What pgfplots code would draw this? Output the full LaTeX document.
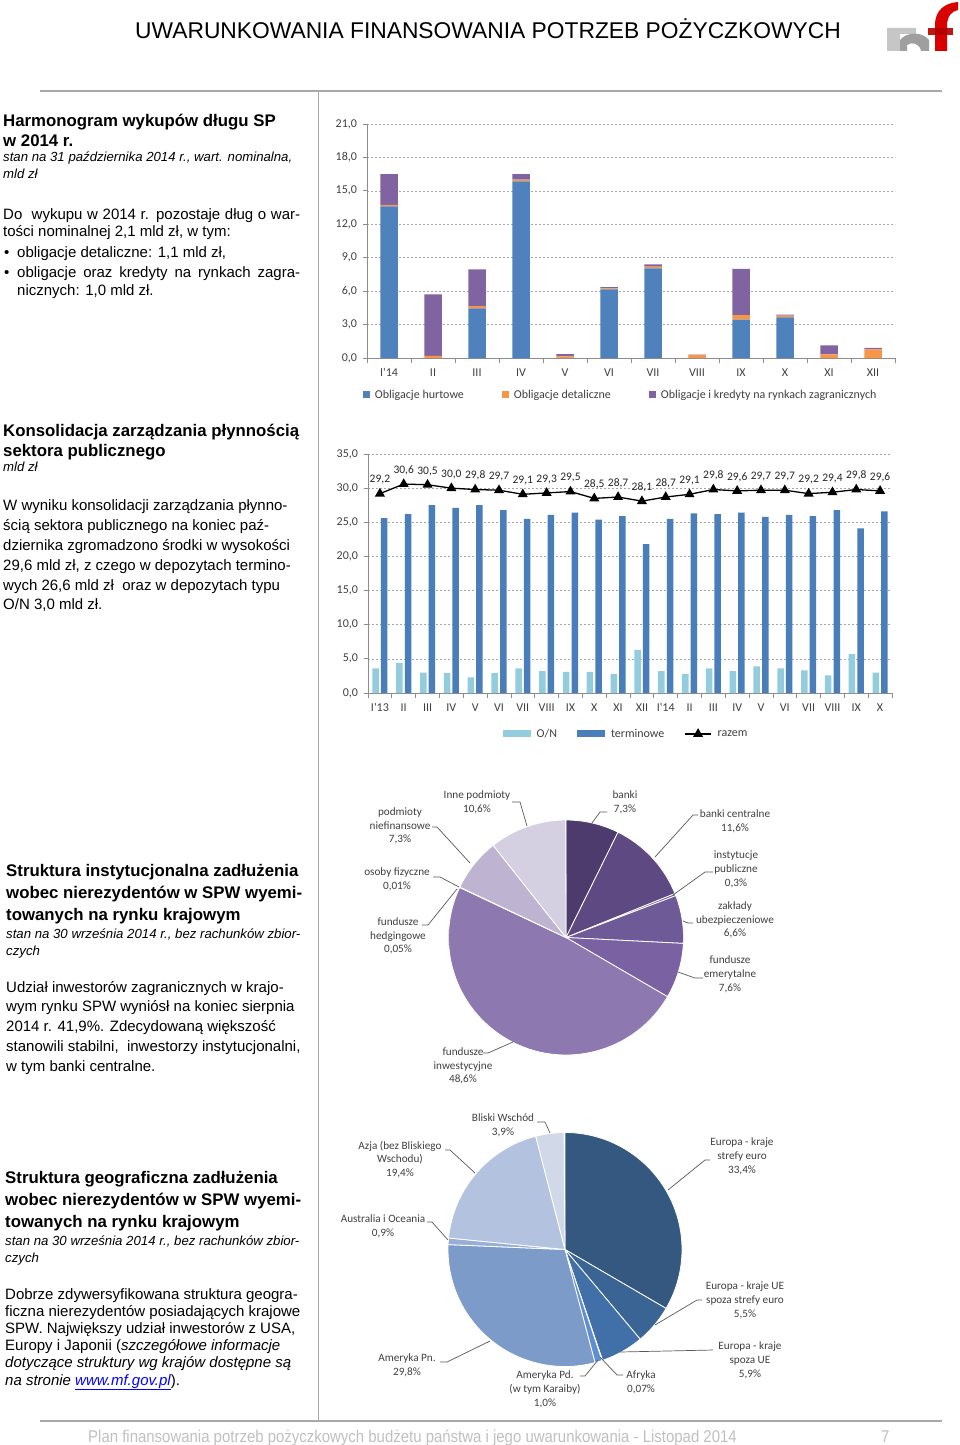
\documentclass[border=0pt]{standalone}
\usepackage{fontspec}
\setmainfont{Liberation Sans}
\newfontfamily\calibri{Carlito}
\newfontfamily\narrowfont[FakeStretch=0.88]{Liberation Sans}
\usepackage{pgfplots}
\usepackage{pgfplotstable}
\pgfplotsset{compat=1.18}

\definecolor{cHurt}{HTML}{4F81BD}
\definecolor{cDet}{HTML}{F79646}
\definecolor{cFor}{HTML}{8064A2}
\definecolor{cON}{HTML}{93CDDD}
\definecolor{cTerm}{HTML}{4A7EBB}
\definecolor{axisgray}{HTML}{8C8C8C}
\definecolor{gridgray}{HTML}{A6A6A6}
\definecolor{ticktext}{HTML}{404040}
\definecolor{linegray}{HTML}{A8A8A8}
\definecolor{footgray}{HTML}{C0C0C0}
\definecolor{leadgray}{HTML}{595959}
% pie 1
\definecolor{pa}{HTML}{4E3B6E}
\definecolor{pb}{HTML}{5E4982}
\definecolor{pc}{HTML}{6A5590}
\definecolor{pd}{HTML}{6F5A98}
\definecolor{pe}{HTML}{7A61A1}
\definecolor{pf}{HTML}{8D78B0}
\definecolor{pg}{HTML}{A090C0}
\definecolor{ph}{HTML}{A99BC7}
\definecolor{pi}{HTML}{BEB4D1}
\definecolor{pj}{HTML}{D5CFE2}
% pie 2
\definecolor{qa}{HTML}{34587F}
\definecolor{qb}{HTML}{3A6494}
\definecolor{qc}{HTML}{416FA8}
\definecolor{qd}{HTML}{4A7ABB}
\definecolor{qe}{HTML}{5F8FD0}
\definecolor{qf}{HTML}{7D9BC9}
\definecolor{qg}{HTML}{98AED6}
\definecolor{qh}{HTML}{B3C3DF}
\definecolor{qi}{HTML}{D1D9E9}

\newcommand\T[3]{\node[anchor=base west,inner sep=0pt] at (#1,#2) {#3};}
\newcommand\fbold{\fontsize{16.8}{20}\selectfont\bfseries}
\newcommand\fit{\fontsize{13.2}{15}\selectfont\itshape}
\newcommand\fbody{\fontsize{15}{20}\selectfont}
\newcommand\pielab{\calibri\fontsize{11.2}{13.8}\selectfont}

\pgfplotstableread{
x  hurt  det   for
0  13.6  0.15  2.75
1  0     0.20  5.50
2  4.45  0.20  3.30
3  15.85 0.15  0.50
4  0     0.15  0.20
5  6.15  0.10  0.10
6  8.05  0.15  0.20
7  0     0.25  0.05
8  3.45  0.40  4.15
9  3.65  0.15  0.10
10 0     0.33  0.80
11 0     0.78  0.13
}\harm

\pgfplotstableread{
x  on   term  razem
0  3.6  25.6  29.2
1  4.4  26.2  30.6
2  3.0  27.5  30.5
3  2.9  27.1  30.0
4  2.3  27.5  29.8
5  2.9  26.8  29.7
6  3.6  25.5  29.1
7  3.2  26.1  29.3
8  3.1  26.4  29.5
9  3.1  25.4  28.5
10 2.8  25.9  28.7
11 6.3  21.8  28.1
12 3.2  25.5  28.7
13 2.8  26.3  29.1
14 3.6  26.2  29.8
15 3.2  26.4  29.6
16 3.9  25.8  29.7
17 3.6  26.1  29.7
18 3.3  25.9  29.2
19 2.6  26.8  29.4
20 5.7  24.1  29.8
21 3.0  26.6  29.6
}\depo

\pgfplotsset{
  xlschart/.style={
    scale only axis,
    axis x line*=bottom, axis y line*=left,
    axis line style={draw=axisgray, line width=0.8pt},
    ymajorgrids, grid style={gridgray, dash pattern=on 2pt off 2pt, line width=0.6pt},
    tick align=outside, major tick length=4pt,
    xtick style={draw=none}, ytick style={draw=axisgray, line width=0.8pt},
    extra x tick style={xtick style={draw=axisgray, line width=0.8pt}, major tick length=5pt, grid=none},
    tick label style={font=\calibri\fontsize{12}{14}\selectfont, text=ticktext},
    typeset ticklabels with strut,
    xticklabel style={yshift=-1pt},
    yticklabel style={xshift=-2.5pt},
    yticklabel={\pgfmathprintnumber[fixed,fixed zerofill,precision=1,use comma,assume math mode=true]{\tick}},
    legend style={draw=none, fill=none, inner sep=0pt, font=\calibri\fontsize{12}{14}\selectfont, text=ticktext},
  },
  sqlegend/.style={legend image code/.code={\fill[##1] (0pt,-3.5pt) rectangle (7pt,3.5pt);}},
  rectlegend/.style={legend image code/.code={\fill[##1] (0pt,-3.5pt) rectangle (28pt,3.5pt);}},
  linelegend/.style={legend image code/.code={\draw[##1,mark repeat=2,mark phase=2] plot coordinates {(0pt,0pt) (13pt,0pt) (26pt,0pt)};}},
}

\begin{document}
\begin{tikzpicture}[x=1pt,y=-1pt]
\useasboundingbox[fill=white] (0,0) rectangle (960,1445);

% ---------- header / frame ----------
\node[anchor=base west,inner sep=0pt] at (135,38) {\fontsize{22.8}{26}\selectfont UWARUNKOWANIA FINANSOWANIA POTRZEB POŻYCZKOWYCH};
\draw[linegray, line width=1.5pt] (40,91) -- (942,91);
\draw[linegray, line width=1pt] (318,92) -- (318,1421);
\draw[linegray, line width=1.5pt] (40,1421) -- (942,1421);
% logo
\fill[gray!45] (887,51) -- (887,28) -- (916,28) -- (916,34) -- (900,34) -- (900,51) -- cycle;
\fill[gray!75] (900,51) -- (900,40) .. controls (906,32) and (922,31) .. (929,40) -- (929,51) -- (921,51) .. controls (920,44) and (912,41) .. (907,45) -- (907,51) -- cycle;
\fill[red!85!black] (935,51) -- (935,25) .. controls (935,10) and (945,3) .. (958,2) -- (958,10) .. controls (952,11) and (947,16) .. (947,26) -- (947,51) -- cycle;
\fill[red!70!black, opacity=0.9] (928,28) rectangle (953,35);

% ---------- footer ----------
\node[anchor=base west,inner sep=0pt,text=footgray] at (88,1442) {\narrowfont\fontsize{17}{18}\selectfont Plan finansowania potrzeb pożyczkowych budżetu państwa i jego uwarunkowania - Listopad 2014};
\node[anchor=base west,inner sep=0pt,text=footgray] at (881,1442) {\narrowfont\fontsize{17}{18}\selectfont 7};

% ---------- text block 1 ----------
\T{3}{126}{\fbold Harmonogram wykupów długu SP}
\T{3}{146}{\fbold w 2014 r.}
\T{3}{161.5}{\fit stan na 31 października 2014 r., wart. nominalna,}
\T{3}{178.5}{\fit mld zł}
\T{3}{219}{\fbody\makebox[297pt][s]{Do\ \ wykupu w 2014 r. pozostaje dług o war-}}
\T{3}{236}{\fbody tości nominalnej 2,1 mld zł, w tym:}
\T{4}{257}{\fbody •}
\T{17}{257}{\fbody obligacje detaliczne: 1,1 mld zł,}
\T{4}{277}{\fbody •}
\T{17}{277}{\fbody\makebox[283pt][s]{obligacje oraz kredyty na rynkach zagra-}}
\T{17}{295}{\fbody nicznych: 1,0 mld zł.}

% ---------- text block 2 ----------
\T{3}{436}{\fbold Konsolidacja zarządzania płynnością}
\T{3}{456}{\fbold sektora publicznego}
\T{3}{471.5}{\fit mld zł}
\T{3}{510}{\fbody W wyniku konsolidacji zarządzania płynno-}
\T{3}{530}{\fbody ścią sektora publicznego na koniec paź-}
\T{3}{550}{\fbody dziernika zgromadzono środki w wysokości}
\T{3}{570}{\fbody 29,6 mld zł, z czego w depozytach termino-}
\T{3}{590}{\fbody wych 26,6 mld zł\ \ oraz w depozytach typu}
\T{3}{609}{\fbody O/N 3,0 mld zł.}

% ---------- text block 3 ----------
\T{6}{876}{\fbold Struktura instytucjonalna zadłużenia}
\T{6}{898}{\fbold wobec nierezydentów w SPW wyemi-}
\T{6}{920}{\fbold towanych na rynku krajowym}
\T{6}{938.5}{\fit stan na 30 września 2014 r., bez rachunków zbior-}
\T{6}{955.5}{\fit czych}
\T{6}{992}{\fbody Udział inwestorów zagranicznych w krajo-}
\T{6}{1011}{\fbody wym rynku SPW wyniósł na koniec sierpnia}
\T{6}{1031}{\fbody 2014 r. 41,9\%. Zdecydowaną większość}
\T{6}{1051}{\fbody stanowili stabilni,\ \ inwestorzy instytucjonalni,}
\T{6}{1071}{\fbody w tym banki centralne.}

% ---------- text block 4 ----------
\T{5}{1183}{\fbold Struktura geograficzna zadłużenia}
\T{5}{1205}{\fbold wobec nierezydentów w SPW wyemi-}
\T{5}{1227}{\fbold towanych na rynku krajowym}
\T{5}{1245.5}{\fit stan na 30 września 2014 r., bez rachunków zbior-}
\T{5}{1262.5}{\fit czych}
\T{5}{1299}{\fbody Dobrze zdywersyfikowana struktura geogra-}
\T{5}{1316}{\fbody ficzna nierezydentów posiadających krajowe}
\T{5}{1333}{\fbody SPW. Największy udział inwestorów z USA,}
\T{5}{1350}{\fbody Europy i Japonii ({\itshape szczegółowe informacje}}
\T{5}{1367}{\fbody\itshape dotyczące struktury wg krajów dostępne są}
\T{5}{1385}{\fbody{\itshape na stronie \textcolor{blue}{\underline{www.mf.gov.pl}}}).}

% ---------- chart 1 ----------
\begin{axis}[xlschart, at={(367pt,-358pt)}, anchor=south west,
  width=528pt, height=234pt,
  xmin=-0.5, xmax=11.5, ymin=0, ymax=21, ytick={0,3,...,21},
  xtick={0,...,11}, xticklabels={I'14,II,III,IV,V,VI,VII,VIII,IX,X,XI,XII},
  extra x ticks={-0.5,0.5,...,11.5}, extra x tick labels={},
  ybar stacked, bar width=17.5pt,
  legend columns=3,
  legend style={at={(axis description cs:-0.008,-0.158)}, anchor=west,
    /tikz/every even column/.append style={column sep=36pt},
    /tikz/every odd column/.append style={column sep=3pt}},
  sqlegend,
]
\addplot[fill=cHurt, draw=none] table[x=x,y=hurt]{\harm};
\addplot[fill=cDet, draw=none] table[x=x,y=det]{\harm};
\addplot[fill=cFor, draw=none] table[x=x,y=for]{\harm};
\legend{Obligacje hurtowe, Obligacje detaliczne, Obligacje i kredyty na rynkach zagranicznych}
\end{axis}

% ---------- chart 2 ----------
\begin{axis}[xlschart, at={(368pt,-693pt)}, anchor=south west,
  width=524pt, height=239pt,
  xmin=-0.5, xmax=21.5, ymin=0, ymax=35, ytick={0,5,...,35},
  xtick={0,...,21}, xticklabels={I'13,II,III,IV,V,VI,VII,VIII,IX,X,XI,XII,I'14,II,III,IV,V,VI,VII,VIII,IX,X},
  extra x ticks={-0.5,0.5,...,21.5}, extra x tick labels={},
  legend columns=3,
  legend style={at={(axis description cs:0.4925,-0.1715)}, anchor=center,
    /tikz/every even column/.append style={column sep=18pt},
    /tikz/every odd column/.append style={column sep=4pt}},
]
\addplot[ybar, bar width=6.5pt, bar shift=-4.3pt, fill=cON, draw=none, rectlegend] table[x=x,y=on]{\depo};
\addplot[ybar, bar width=6.5pt, bar shift=4.3pt, fill=cTerm, draw=none, rectlegend] table[x=x,y=term]{\depo};
\addplot[black, line width=1.3pt, mark=triangle*, mark size=4.5pt,
  nodes near coords={\pgfmathprintnumber[fixed,fixed zerofill,precision=1,use comma,assume math mode=true]{\pgfplotspointmeta}},
  point meta=y,
  nodes near coords style={font=\calibri\fontsize{11.5}{13}\selectfont, text=black!85, anchor=south, inner sep=0pt, yshift=8.5pt},
  linelegend]
  table[x=x,y=razem]{\depo};
\legend{O/N, terminowe, razem}
\end{axis}

% ---------- pie 1 ----------
\begin{axis}[at={(566pt,-937.5pt)}, anchor=center, hide axis, scale only axis,
  width=235pt, height=235pt, xmin=-1, xmax=1, ymin=-1, ymax=1]
\addplot[draw=none] coordinates {(0,0)};
\pgfplotsextra{
  \gdef\cum{0}
  \foreach \v/\c in {7.3/pa,11.6/pb,0.3/pc,6.6/pd,7.6/pe,48.6/pf,0.05/pg,0.01/ph,7.3/pi,10.6/pj}{
    \pgfmathsetmacro\a{90-3.6*\cum}
    \pgfmathsetmacro\b{90-3.6*(\cum+\v)}
    \fill[\c, draw=white, line width=0.8pt] (axis cs:0,0) -- (axis cs:{cos(\a)},{sin(\a)}) arc[start angle=\a, end angle=\b, radius=117.5pt] -- cycle;
    \pgfmathsetmacro\newcum{\cum+\v}
    \xdef\cum{\newcum}
  }
}
\end{axis}

% pie 1 labels
\begin{scope}[every node/.style={align=center, inner sep=0pt, text=ticktext, font=\pielab}]
\node at (477,802) {Inne podmioty\\10,6\%};
\node at (625,802) {banki\\7,3\%};
\node at (400,826) {podmioty\\niefinansowe\\7,3\%};
\node at (735,821) {banki centralne\\11,6\%};
\node at (397,879) {osoby fizyczne\\0,01\%};
\node at (736,869.5) {instytucje\\publiczne\\0,3\%};
\node at (735,920) {zakłady\\ubezpieczeniowe\\6,6\%};
\node at (398,936) {fundusze\\hedgingowe\\0,05\%};
\node at (730,974.5) {fundusze\\emerytalne\\7,6\%};
\node at (463,1066) {fundusze\\inwestycyjne\\48,6\%};
\end{scope}
\begin{scope}[leadgray, line width=0.7pt]
\draw (512,802) -- (520,802) -- (527,826);
\draw (607,812) -- (600,812) -- (592,823);
\draw (432,827) -- (437,827) -- (470,863);
\draw (698,815) -- (693,815) -- (655,857);
\draw (433,877) -- (440,877) -- (459,887);
\draw (713,872) -- (705,872) -- (673,895);
\draw (693,923) -- (688,923) -- (683,921);
\draw (422,925) -- (428,925) -- (457,889);
\draw (703,978) -- (695,978) -- (678,972);
\draw (483,1053) -- (488,1053) -- (513,1042);
\end{scope}

% ---------- pie 2 ----------
\begin{axis}[at={(565pt,-1249.5pt)}, anchor=center, hide axis, scale only axis,
  width=234pt, height=234pt, xmin=-1, xmax=1, ymin=-1, ymax=1]
\addplot[draw=none] coordinates {(0,0)};
\pgfplotsextra{
  \gdef\cum{0}
  \foreach \v/\c in {33.4/qa,5.5/qb,5.9/qc,0.07/qd,1.0/qe,29.8/qf,0.9/qg,19.4/qh,3.9/qi}{
    \pgfmathsetmacro\a{90-3.6*\cum}
    \pgfmathsetmacro\b{90-3.6*(\cum+\v)}
    \fill[\c, draw=white, line width=0.8pt] (axis cs:0,0) -- (axis cs:{cos(\a)},{sin(\a)}) arc[start angle=\a, end angle=\b, radius=117pt] -- cycle;
    \pgfmathsetmacro\newcum{\cum+\v}
    \xdef\cum{\newcum}
  }
}
\end{axis}

\begin{scope}[every node/.style={align=center, inner sep=0pt, text=ticktext, font=\pielab}]
\node at (503,1125.5) {Bliski Wschód\\3,9\%};
\node at (400,1159.5) {Azja (bez Bliskiego\\Wschodu)\\19,4\%};
\node at (742,1156.5) {Europa - kraje\\strefy euro\\33,4\%};
\node at (383,1226) {Australia i Oceania\\0,9\%};
\node at (745,1300.5) {Europa - kraje UE\\spoza strefy euro\\5,5\%};
\node at (750,1360.5) {Europa - kraje\\spoza UE\\5,9\%};
\node at (407,1365.5) {Ameryka Pn.\\29,8\%};
\node at (545,1389.5) {Ameryka Pd.\\(w tym Karaiby)\\1,0\%};
\node at (641,1382) {Afryka\\0,07\%};
\end{scope}
\begin{scope}[leadgray, line width=0.7pt]
\draw (537,1122) -- (545,1122) -- (550,1133);
\draw (445,1150) -- (450,1150) -- (475,1173);
\draw (427,1222) -- (432,1222) -- (448,1240);
\draw (710,1160) -- (705,1160) -- (668,1190);
\draw (702,1300) -- (697,1300) -- (655,1325);
\draw (713,1350) -- (620,1352);
\draw (623,1375) -- (617,1375) -- (600,1357);
\draw (580,1376) -- (585,1376) -- (598,1360);
\draw (440,1362) -- (447,1362) -- (490,1341);
\end{scope}
\end{tikzpicture}
\end{document}
